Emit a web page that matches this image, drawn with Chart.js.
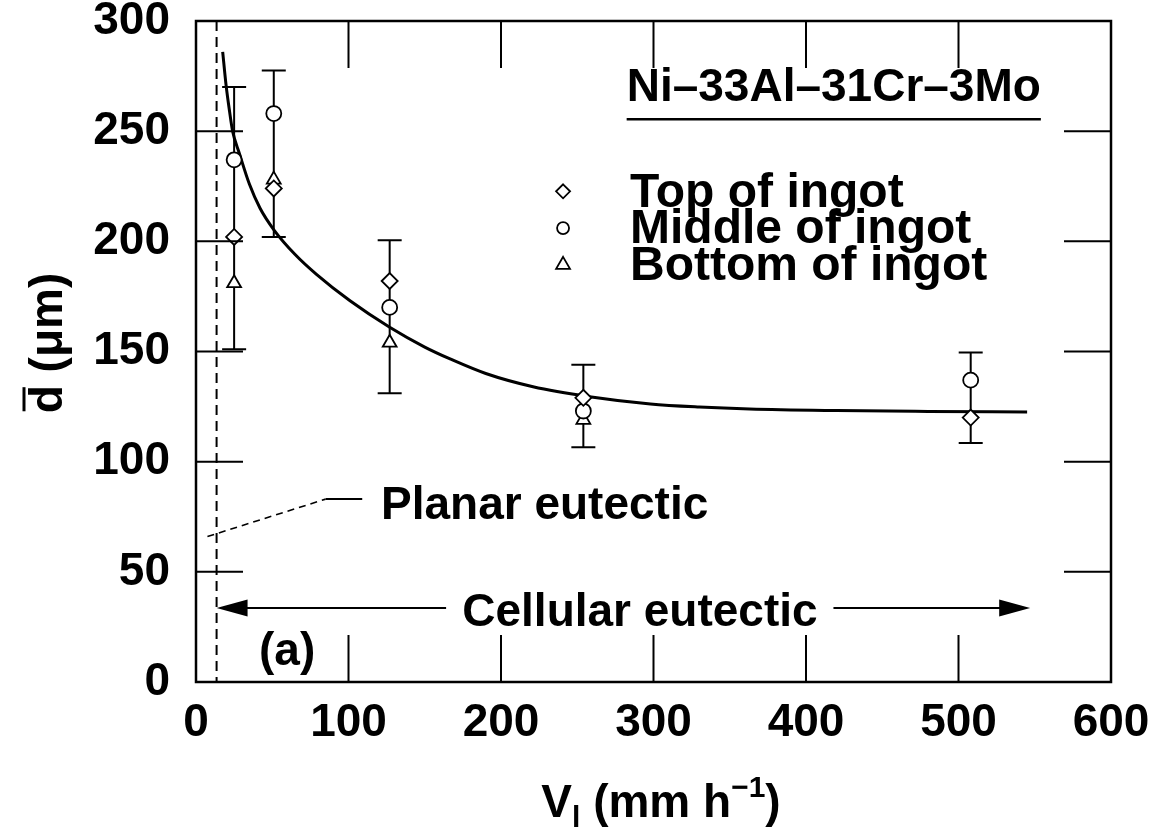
<!DOCTYPE html>
<html>
<head>
<meta charset="utf-8">
<script src="https://cdn.jsdelivr.net/npm/chart.js@4/dist/chart.umd.min.js"></script>
<style>
  html, body { margin: 0; padding: 0; background: #fff; }
  #wrap { width: 1161px; height: 832px; }
</style>
</head>
<body>
<div id="wrap"><canvas id="grain-chart" width="1161" height="832"></canvas></div>
<script>
// growth velocity of each ingot (mm/h) and measured cell size (um)
const velocities = [25, 51, 127, 254, 508];
const topOfIngot = [202, 224, 182, 129, 120];
const middleOfIngot = [237, 258, 170, 123, 137];
const bottomVelocities = [25, 51, 127, 254];
const bottomOfIngot = [181, 228, 154, 119];
const errorLow = [151, 202, 131, 106.5, 108.5];
const errorHigh = [270, 277.5, 200.5, 144, 149.5];

// fitted curve
const fitVelocity = [17.5, 19.7, 22, 24, 28.4, 35, 42, 51.3, 65, 79, 101, 127, 150, 167, 190, 221, 258, 298, 330, 363, 420, 480, 545];
const fitDiameter = [286, 271, 259, 250, 240, 226, 215, 205, 194, 185, 173, 161, 152, 146.5, 140, 134, 129.5, 126.2, 124.8, 123.9, 123.2, 122.8, 122.5];

const xTickValues = [0, 100, 200, 300, 400, 500, 600];
const yTickValues = [0, 50, 100, 150, 200, 250, 300];

// annotations (data units)
const planarLimit = 13.5;
const planarLeader = [[7.5, 66], [85, 83], [109, 83]];
const cellularArrowY = 33.6;
const cellularLeft = [164, 13.5];
const cellularRight = [418, 547];

const FONT = '"Liberation Sans", Arial, Helvetica, sans-serif';

function toPx(chart, v, d) {
  return [chart.scales.x.getPixelForValue(v), chart.scales.y.getPixelForValue(d)];
}

function drawMarker(ctx, style, x, y, r) {
  ctx.beginPath();
  if (style === "circle") {
    ctx.arc(x, y, r, 0, Math.PI * 2);
  } else if (style === "rectRot") {
    ctx.moveTo(x, y - r);
    ctx.lineTo(x + r, y);
    ctx.lineTo(x, y + r);
    ctx.lineTo(x - r, y);
    ctx.closePath();
  } else {
    ctx.moveTo(x, y - r);
    ctx.lineTo(x + r * 0.866, y + r * 0.5);
    ctx.lineTo(x - r * 0.866, y + r * 0.5);
    ctx.closePath();
  }
  ctx.fillStyle = "#fff";
  ctx.fill();
  ctx.lineWidth = 1.8;
  ctx.strokeStyle = "#000";
  ctx.stroke();
}

function arrowHead(ctx, tipX, y, dir) {
  ctx.beginPath();
  ctx.moveTo(tipX, y);
  ctx.lineTo(tipX - dir * 31, y - 8.5);
  ctx.lineTo(tipX - dir * 31, y + 8.5);
  ctx.closePath();
  ctx.fill();
}

const decorPlugin = {
  id: "decor",
  beforeDatasetsDraw(chart) {
    const ctx = chart.ctx;
    const area = chart.chartArea;
    ctx.save();
    ctx.strokeStyle = "#000";
    // error bars
    ctx.lineWidth = 2;
    velocities.forEach((v, i) => {
      const [x, yl] = toPx(chart, v, errorLow[i]);
      const yh = chart.scales.y.getPixelForValue(errorHigh[i]);
      ctx.beginPath();
      ctx.moveTo(x, yl); ctx.lineTo(x, yh);
      ctx.moveTo(x - 12, yl); ctx.lineTo(x + 12, yl);
      ctx.moveTo(x - 12, yh); ctx.lineTo(x + 12, yh);
      ctx.stroke();
    });
    // planar / cellular boundary
    const bx = chart.scales.x.getPixelForValue(planarLimit);
    ctx.setLineDash([10, 6]);
    ctx.beginPath();
    ctx.moveTo(bx, area.top); ctx.lineTo(bx, area.bottom);
    ctx.stroke();
    // leader to "Planar eutectic"
    ctx.lineWidth = 1.6;
    ctx.setLineDash([7, 5]);
    let p0 = toPx(chart, planarLeader[0][0], planarLeader[0][1]);
    let p1 = toPx(chart, planarLeader[1][0], planarLeader[1][1]);
    let p2 = toPx(chart, planarLeader[2][0], planarLeader[2][1]);
    ctx.beginPath();
    ctx.moveTo(p0[0], p0[1]); ctx.lineTo(p1[0], p1[1]);
    ctx.stroke();
    ctx.setLineDash([]);
    ctx.lineWidth = 2;
    ctx.beginPath();
    ctx.moveTo(p1[0], p1[1]); ctx.lineTo(p2[0], p2[1]);
    ctx.stroke();
    // cellular arrows
    ctx.fillStyle = "#000";
    const ay = chart.scales.y.getPixelForValue(cellularArrowY);
    const l0 = chart.scales.x.getPixelForValue(cellularLeft[0]);
    const l1 = chart.scales.x.getPixelForValue(cellularLeft[1]);
    const r0 = chart.scales.x.getPixelForValue(cellularRight[0]);
    const r1 = chart.scales.x.getPixelForValue(cellularRight[1]);
    ctx.beginPath();
    ctx.moveTo(l0, ay); ctx.lineTo(l1 + 20, ay);
    ctx.moveTo(r0, ay); ctx.lineTo(r1 - 20, ay);
    ctx.stroke();
    arrowHead(ctx, l1, ay, -1);
    arrowHead(ctx, r1, ay, 1);
    ctx.restore();
  },
  afterDraw(chart) {
    const ctx = chart.ctx;
    const area = chart.chartArea;
    const xs = chart.scales.x, ys = chart.scales.y;
    ctx.save();
    ctx.strokeStyle = "#000";
    ctx.fillStyle = "#000";
    // frame
    ctx.lineWidth = 2.5;
    ctx.strokeRect(area.left, area.top, area.right - area.left, area.bottom - area.top);
    // inward ticks on all four sides
    ctx.lineWidth = 2;
    const tl = 47;
    ctx.beginPath();
    xTickValues.slice(1, -1).forEach(v => {
      const x = xs.getPixelForValue(v);
      ctx.moveTo(x, area.bottom); ctx.lineTo(x, area.bottom - tl);
      ctx.moveTo(x, area.top); ctx.lineTo(x, area.top + tl);
    });
    yTickValues.slice(1, -1).forEach(v => {
      const y = ys.getPixelForValue(v);
      ctx.moveTo(area.left, y); ctx.lineTo(area.left + tl, y);
      ctx.moveTo(area.right, y); ctx.lineTo(area.right - tl, y);
    });
    ctx.stroke();

    // texts
    ctx.textBaseline = "alphabetic";
    ctx.textAlign = "left";
    ctx.font = "bold 46px " + FONT;
    let p = toPx(chart, 121.3, 73.9);
    ctx.fillText("Planar eutectic", p[0], p[1]);
    p = toPx(chart, 174.6, 25.4);
    ctx.fillText("Cellular eutectic", p[0], p[1]);
    p = toPx(chart, 41.3, 7.7);
    ctx.fillText("(a)", p[0], p[1]);

    // legend title with underline
    p = toPx(chart, 282.4, 263.6);
    ctx.fillText("Ni\u201333Al\u201331Cr\u20133Mo", p[0], p[1]);
    const tw = ctx.measureText("Ni\u201333Al\u201331Cr\u20133Mo").width;
    ctx.lineWidth = 2.5;
    ctx.beginPath();
    ctx.moveTo(p[0], p[1] + 18); ctx.lineTo(p[0] + tw, p[1] + 18);
    ctx.stroke();

    // legend entries
    const entries = [
      ["rectRot", "Top of ingot", 222.7, 215.7, 7],
      ["circle", "Middle of ingot", 206, 199.1, 6],
      ["triangle", "Bottom of ingot", 189.3, 182.4, 8]
    ];
    ctx.font = "bold 48px " + FONT;
    entries.forEach(e => {
      const m = toPx(chart, 240.7, e[2]);
      drawMarker(ctx, e[0], m[0], m[1], e[4]);
      const t = toPx(chart, 284.6, e[3]);
      ctx.fillStyle = "#000";
      ctx.fillText(e[1], t[0], t[1]);
    });

    // x axis title: V_l (mm h^-1)
    const big = "bold 46px " + FONT, small = "bold 30px " + FONT;
    const parts = [
      [big, "V", 0], [small, "l", 10], [big, " (mm h", 0], [small, "\u22121", -20], [big, ")", 0]
    ];
    let total = 0;
    parts.forEach(pt => { ctx.font = pt[0]; total += ctx.measureText(pt[1]).width; });
    let cx = 661 - total / 2;
    const base = 817;
    parts.forEach(pt => {
      ctx.font = pt[0];
      ctx.fillText(pt[1], cx, base + pt[2]);
      cx += ctx.measureText(pt[1]).width;
    });

    // y axis title: d-bar (um)
    ctx.save();
    ctx.translate(62, 343);
    ctx.rotate(-Math.PI / 2);
    ctx.font = big;
    ctx.textAlign = "left";
    const label = "d (\u03bcm)";
    const lw = ctx.measureText(label).width;
    const dw = ctx.measureText("d").width;
    ctx.fillText(label, -lw / 2, 0);
    ctx.lineWidth = 3;
    ctx.beginPath();
    ctx.moveTo(-lw / 2 + 2, -38); ctx.lineTo(-lw / 2 + dw - 2, -38);
    ctx.stroke();
    ctx.restore();

    ctx.restore();
  }
};

const tickFont = { family: FONT, size: 46, weight: "bold" };

const ctx = document.getElementById("grain-chart").getContext("2d");
const grainChart = new Chart(ctx, {
  type: "scatter",
  data: {
    datasets: [
      {
        label: "Top of ingot",
        data: velocities.map((v, i) => ({ x: v, y: topOfIngot[i] })),
        pointStyle: "rectRot",
        pointRadius: 8,
        backgroundColor: "#fff",
        borderColor: "#000",
        borderWidth: 1.8,
        order: 1
      },
      {
        label: "Middle of ingot",
        data: velocities.map((v, i) => ({ x: v, y: middleOfIngot[i] })),
        pointStyle: "circle",
        pointRadius: 7.5,
        backgroundColor: "#fff",
        borderColor: "#000",
        borderWidth: 1.8,
        order: 2
      },
      {
        label: "Bottom of ingot",
        data: bottomVelocities.map((v, i) => ({ x: v, y: bottomOfIngot[i] })),
        pointStyle: "triangle",
        pointRadius: 8,
        backgroundColor: "#fff",
        borderColor: "#000",
        borderWidth: 1.8,
        order: 3
      },
      {
        type: "line",
        label: "fit",
        data: fitVelocity.map((v, i) => ({ x: v, y: fitDiameter[i] })),
        borderColor: "#000",
        borderWidth: 3,
        pointRadius: 0,
        fill: false,
        cubicInterpolationMode: "monotone",
        order: 10
      }
    ]
  },
  options: {
    responsive: false,
    animation: false,
    layout: { padding: { left: 0, top: 21, right: 50, bottom: 0 } },
    plugins: { legend: { display: false }, tooltip: { enabled: false } },
    scales: {
      x: {
        type: "linear",
        min: 0,
        max: 600,
        afterFit: s => { s.height = 150; s.paddingLeft = 0; s.paddingRight = 0; },
        afterBuildTicks: s => { s.ticks = xTickValues.map(v => ({ value: v })); },
        grid: { display: false, drawTicks: false },
        border: { display: false },
        ticks: { font: tickFont, color: "#000", padding: 14, maxRotation: 0, autoSkip: false }
      },
      y: {
        type: "linear",
        min: 0,
        max: 300,
        afterFit: s => { s.width = 196; s.paddingTop = 0; s.paddingBottom = 0; },
        afterBuildTicks: s => { s.ticks = yTickValues.map(v => ({ value: v })); },
        grid: { display: false, drawTicks: false },
        border: { display: false },
        ticks: { font: tickFont, color: "#000", padding: 26, autoSkip: false }
      }
    }
  },
  plugins: [decorPlugin]
});
</script>
</body>
</html>
